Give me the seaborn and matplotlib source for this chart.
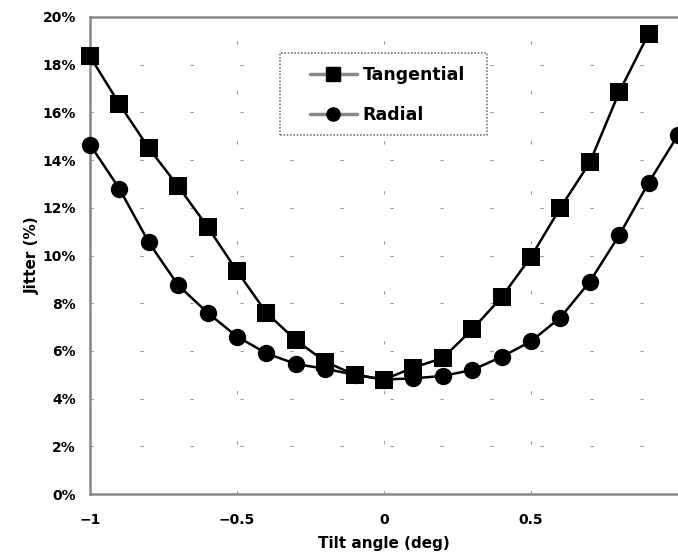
import matplotlib
matplotlib.use("Agg")
import matplotlib.pyplot as plt
import seaborn as sns
import pandas as pd
from matplotlib.lines import Line2D
from matplotlib.patches import Rectangle

# Tilt angle (deg)
tilt_tangential = [-1.0, -0.9, -0.8, -0.7, -0.6, -0.5, -0.4, -0.3, -0.2, -0.1,
                   0.0, 0.1, 0.2, 0.3, 0.4, 0.5, 0.6, 0.7, 0.8, 0.9]
jitter_tangential = [18.35, 16.35, 14.5, 12.9, 11.2, 9.35, 7.6, 6.45, 5.55, 5.0,
                     4.8, 5.3, 5.7, 6.9, 8.25, 9.95, 12.0, 13.9, 16.85, 19.3]

tilt_radial = [-1.0, -0.9, -0.8, -0.7, -0.6, -0.5, -0.4, -0.3, -0.2, -0.1,
               0.0, 0.1, 0.2, 0.3, 0.4, 0.5, 0.6, 0.7, 0.8, 0.9, 1.0]
jitter_radial = [14.65, 12.8, 10.55, 8.75, 7.6, 6.6, 5.9, 5.45, 5.25, 5.0,
                 4.8, 4.85, 4.95, 5.2, 5.75, 6.4, 7.4, 8.9, 10.85, 13.05, 15.05]

y_ticks = [0, 2, 4, 6, 8, 10, 12, 14, 16, 18, 20]
y_tick_labels = ["0%", "2%", "4%", "6%", "8%", "10%", "12%", "14%", "16%", "18%", "20%"]
x_ticks = [-1, -0.5, 0, 0.5]
x_tick_labels = ["\u22121", "\u22120.5", "0", "0.5"]

df = pd.concat([
    pd.DataFrame({"tilt": tilt_tangential, "jitter": jitter_tangential, "mode": "Tangential"}),
    pd.DataFrame({"tilt": tilt_radial, "jitter": jitter_radial, "mode": "Radial"}),
], ignore_index=True)

sns.set_style("white", {"text.color": "black", "axes.labelcolor": "black",
                        "xtick.color": "black", "ytick.color": "black"})
plt.rcParams["font.family"] = ["DejaVu Sans"]

fig = plt.figure(figsize=(6.78, 5.58), dpi=100)
ax = fig.add_axes([90 / 678, 1 - 494 / 558, 588 / 678, 477 / 558])

sns.lineplot(data=df, x="tilt", y="jitter", hue="mode", style="mode",
             markers={"Tangential": "s", "Radial": "o"}, dashes=False,
             palette={"Tangential": "black", "Radial": "black"},
             linewidth=1.8, markeredgewidth=0, ax=ax, legend=False,
             sort=False, estimator=None)

for ln, ms in zip(ax.lines, [13.5, 12.5]):
    ln.set_markersize(ms)
    ln.set_clip_on(False)
    ln.set_zorder(5)

ax.set_xlim(-1, 1)
ax.set_ylim(0, 20)
ax.set_xticks(x_ticks)
ax.set_xticklabels(x_tick_labels)
ax.set_yticks(y_ticks)
ax.set_yticklabels(y_tick_labels)

# sparse dashed grid
ax.grid(True, color="#999999", linewidth=0.8, linestyle=(0, (3, 42)))
ax.set_axisbelow(True)

ax.tick_params(axis="x", direction="in", length=4, width=1, color="#888888",
               labelcolor="black", labelsize=10, pad=14)
ax.tick_params(axis="y", direction="in", length=4, width=1, color="#888888",
               labelcolor="black", labelsize=10, pad=10)
for lab in ax.get_xticklabels() + ax.get_yticklabels():
    lab.set_fontweight("bold")

for side in ["left", "bottom", "top"]:
    ax.spines[side].set_color("#888888")
    ax.spines[side].set_linewidth(1.8)
ax.spines["right"].set_visible(False)

ax.set_xlabel("Tilt angle (deg)", fontsize=11, fontweight="bold", labelpad=6,
              color="black")
ax.set_ylabel("Jitter (%)", fontsize=11, fontweight="bold", labelpad=2,
              color="black")

# legend box with dotted border
ax.add_patch(Rectangle((0.3231, 0.7526), 0.352, 0.1719, transform=ax.transAxes,
                       facecolor="white", edgecolor="#777777", linewidth=1.2,
                       linestyle=(0, (1, 1)), zorder=6))

handles = [
    Line2D([], [], color="#888888", linewidth=2.5, marker="s", markersize=9.5,
           markerfacecolor="black", markeredgecolor="black"),
    Line2D([], [], color="#888888", linewidth=2.5, marker="o", markersize=9.5,
           markerfacecolor="black", markeredgecolor="black"),
]
leg = ax.legend(handles, ["Tangential", "Radial"], loc="upper left",
                bbox_to_anchor=(0.374, 0.898), frameon=False,
                prop={"size": 12.5, "weight": "bold"}, handlelength=2.7,
                borderpad=0, labelspacing=1.3, handletextpad=0.35,
                borderaxespad=0, labelcolor="black")
leg.set_zorder(7)

fig.savefig("out.png", dpi=100)
